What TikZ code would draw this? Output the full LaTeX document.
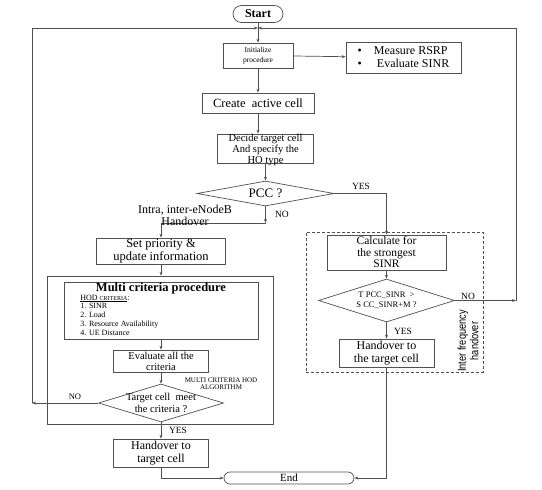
\documentclass[tikz,border=0pt]{standalone}
\usepackage{fontspec}
\setmainfont{Liberation Serif}
\newfontfamily\narrowfont[FakeStretch=0.8]{Liberation Sans}
\usetikzlibrary{shapes.geometric,arrows.meta}
\definecolor{ln}{RGB}{80,80,80}
\newcommand{\fs}[2]{\fontsize{#1}{#2}\selectfont}
\begin{document}
\begin{tikzpicture}[x=1pt,y=-1pt,line width=0.7pt,
  >={Stealth[length=4pt,width=3pt]},
  box/.style={draw=ln,rectangle,inner sep=0pt,align=center},
  dia/.style={draw=ln,diamond,inner sep=0pt},
  term/.style={draw=ln,rectangle,inner sep=0pt,align=center},
  arr/.style={->,draw=ln},
  con/.style={draw=ln},
  lab/.style={inner sep=0pt,font=\fs{9.5}{10}},
  txt/.style={inner sep=0pt,align=center}]
\useasboundingbox[fill=white] (0,0) rectangle (542,490);

% terminals
\node[term,rounded corners=8.5pt,minimum width=50pt,minimum height=17pt,font=\fs{12}{12}\bfseries] (start) at (258,14) {Start};
\node[term,rounded corners=6pt,minimum width=130pt,minimum height=12pt,font=\fs{11}{11}] (end) at (289,478) {End};

% main column
\node[box,minimum width=70pt,minimum height=25pt,font=\fs{7.5}{10}] (init) at (258,55.5) {Initialize\\procedure};
\node[box,minimum width=115pt,minimum height=31pt,align=left,font=\fs{12}{13}] (measure) at (403.5,57.5) {\textbullet\hspace{12pt}Measure RSRP\\\textbullet\hspace{15pt}Evaluate SINR};
\node[box,minimum width=112pt,minimum height=20pt,font=\fs{12.5}{13}] (create) at (258,103) {Create\ \ active cell};
\node[box,minimum width=96pt,minimum height=29pt] (decide) at (265.5,148.5) {};
\node[txt,font=\fs{10.5}{11}] at (265.5,150) {Decide target cell\\And specify the\\HO type};
\node[dia,minimum width=137pt,minimum height=25pt] (pcc) at (265.5,193.5) {};
\node[txt,font=\fs{13}{13}] at (pcc) {PCC ?};

% left branch
\node[box,minimum width=129pt,minimum height=26pt,font=\fs{12.5}{13}] (set) at (161,251) {Set priority \&\\update information};
\node[box,minimum width=226pt,minimum height=148pt] (outer) at (160,350) {};
\node[box,minimum width=194pt,minimum height=57pt] (inner) at (161,310.5) {};
\node[txt,font=\fs{12.5}{13}\bfseries] at (161,288.5) {Multi criteria procedure};
\node[txt,anchor=north west,align=left,font=\fs{8}{8.8}] at (80,294.5) {\underline{HOD {\fs{6}{8.8}CRITERIA}}:\\1. SINR\\2. Load\\3. Resource Availability\\4. UE Distance};
\node[box,minimum width=95pt,minimum height=22pt,font=\fs{10.5}{11}] (eval) at (161,361) {Evaluate all the\\criteria};
\node[dia,minimum width=125pt,minimum height=38pt] (target) at (161,403) {};
\node[txt,font=\fs{10.5}{12}] at (target) {Target cell\ \ meet\\the criteria ?};
\node[box,minimum width=95pt,minimum height=28pt,font=\fs{12}{13}] (ho1) at (161,453) {Handover to\\target cell};

% right branch
\node[draw=ln,dashed,dash pattern=on 3pt off 2pt,rectangle,inner sep=0pt,minimum width=177pt,minimum height=140pt] (inter) at (394.5,302) {};
\node[box,minimum width=119pt,minimum height=35pt,font=\fs{11.5}{11.5}] (calc) at (386.5,252.5) {Calculate for\\the strongest\\SINR};
\node[dia,minimum width=136pt,minimum height=43pt] (tpcc) at (386.5,300.5) {};
\node[txt,font=\fs{8.5}{10}] at (tpcc) {T PCC\_SINR\ \ >\\S CC\_SINR+M ?};
\node[box,minimum width=95pt,minimum height=28pt,font=\fs{12}{13}] (ho2) at (386.5,353) {Handover to\\the target cell};
\node[txt,rotate=90,font=\narrowfont\fs{11.5}{12.5}] (interlab) at (468,341) {Inter frequency\\handover};

% helper coordinates
\coordinate (topmid) at (258,28);
\coordinate (lc) at (32,28);
\coordinate (rc) at (516,28);
\coordinate (ld) at (32,403);
\coordinate (rd) at (516,300.5);
\coordinate (nc) at (265.5,223);

% connectors
\draw[arr] (start) -- (init);
\draw[arr] (init) -- (measure);
\draw[arr] (init) -- (create);
\draw[arr] (create.south) -- (create.south |- decide.north);
\draw[arr] (decide) -- (pcc);
\draw[arr] (pcc.east) -| (calc.north);
\draw[arr] (pcc.south) -- (nc);
\draw[arr] (nc) -| (set.north);
\draw[arr] (set.south) -- (set.south |- outer.north);
\draw[arr] (inner) -- (eval);
\draw[arr] (eval) -- (target);
\draw[arr] (target) -- (ho1);
\draw[arr] (ho1.south) |- (end.west);
\draw[arr] (target.west) -- (ld);
\draw[arr] (ld) -- (lc) -- (topmid);
\draw[arr] (calc) -- (tpcc);
\draw[arr] (tpcc) -- (ho2);
\draw[arr] (tpcc.east) -- (rd);
\draw[arr] (rd) -- (rc) -- (topmid);
\draw[arr] (ho2.south) |- (end.east);

% labels
\node[lab] at (361,186.5) {YES};
\node[lab] at (282,214) {NO};
\node[txt,font=\fs{12}{12}] at (185,215) {Intra, inter-eNodeB\\Handover};
\node[txt,font=\fs{7}{7.5}] at (221,383.5) {MULTI CRITERIA HOD\\ALGORITHM};
\node[lab,font=\fs{8.5}{9}] at (75,397) {NO};
\node[lab] at (178,430) {YES};
\node[lab] at (468,296) {NO};
\node[lab] at (403,331) {YES};
\end{tikzpicture}
\end{document}
